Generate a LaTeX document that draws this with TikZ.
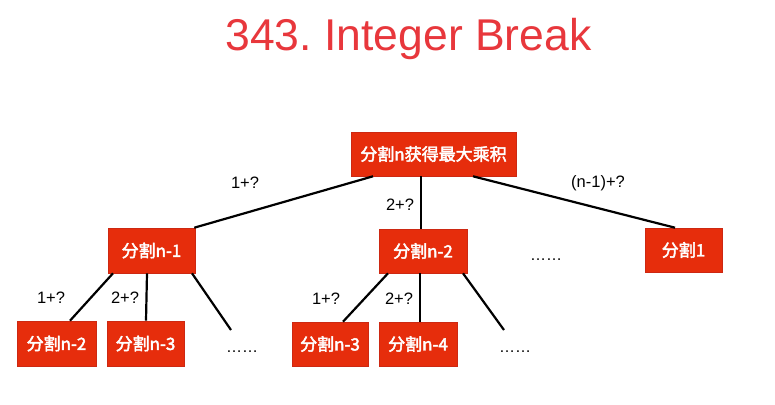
\documentclass[tikz,border=0pt]{standalone}
\usepackage{fontspec}
\setmainfont{Liberation Sans}
\newfontfamily\cjkb{Noto Sans CJK SC}[FakeBold=2.6]
\usetikzlibrary{calc}
\frenchspacing
\definecolor{boxred}{RGB}{230,45,12}
\definecolor{boxedge}{RGB}{205,40,18}
\definecolor{titlered}{RGB}{232,55,60}
\tikzset{
  redbox/.style={rectangle, fill=boxred, draw=boxedge, line width=0.6pt, inner sep=0pt,
    text=white, font=\cjkb\fontsize{17}{20}\selectfont},
  edge/.style={line width=2.2pt, black},
  lbl/.style={font=\fontsize{16.5}{18}\selectfont, text=black, inner sep=0pt},
  dots/.style={font=\fontsize{16}{18}\selectfont, text=black, inner sep=0pt, anchor=base},
}
\begin{document}
\begin{tikzpicture}[x=1pt,y=-1pt]
\useasboundingbox[fill=white] (0,0) rectangle (775,404);
% title
\node[anchor=base, text=titlered, font=\fontsize{44.5}{48}\selectfont, inner sep=0pt] (title) at (408.5,51) {343. Integer Break};
% boxes
\node[redbox, minimum width=165pt, minimum height=44pt] (root) at (433.5,154) {分割n获得最大乘积};
\node[redbox, minimum width=87pt, minimum height=45pt] (n1) at (151.5,250.5) {分割n-1};
\node[redbox, minimum width=88pt, minimum height=44pt] (n2) at (423,251) {分割n-2};
\node[redbox, minimum width=77pt, minimum height=44pt] (s1) at (683.5,250) {分割1};
\node[redbox, minimum width=79pt, minimum height=45pt] (b1) at (56.5,343.5) {分割n-2};
\node[redbox, minimum width=77pt, minimum height=45pt] (b2) at (145.5,343.5) {分割n-3};
\node[redbox, minimum width=76pt, minimum height=44pt] (b3) at (330,344) {分割n-3};
\node[redbox, minimum width=78pt, minimum height=44pt] (b4) at (418,344) {分割n-4};
% dots
\node[dots] (d1) at (546,260) {……};
\node[dots] (d2) at (242,352) {……};
\node[dots] (d3) at (515,352) {……};
% free ends
\coordinate (e1) at (231,330);
\coordinate (e2) at (504,330);
% connectors
\draw[edge] ($(root.south)+(-60.5,0)$) -- ($(n1.north east)+(-1,0)$);
\draw[edge] ($(root.south)+(-12.5,0)$) -- ($(n2.north)+(-2,0)$);
\draw[edge] ($(root.south)+(39.5,0)$) -- ($(s1.north)+(-8.5,0)$);
\draw[edge] ($(n1.south)+(-38.5,0)$) -- ($(b1.north)+(13.5,0)$);
\draw[edge] ($(n1.south)+(-4.5,0)$) -- ($(b2.north)+(0.5,0)$);
\draw[edge] ($(n1.south)+(40.5,0)$) -- (e1);
\draw[edge] ($(n2.south)+(-35,0)$) -- ($(b3.north)+(13,0)$);
\draw[edge] ($(n2.south)+(-3,0)$) -- ($(b4.north)+(2,0)$);
\draw[edge] ($(n2.south)+(40,0)$) -- (e2);
% labels
\node[lbl] (l1) at (245,183) {1+?};
\node[lbl] (l2) at (400,205) {2+?};
\node[lbl] (l3) at (598,183) {(n-1)+?};
\node[lbl] (l4) at (51,298) {1+?};
\node[lbl] (l5) at (125,298) {2+?};
\node[lbl] (l6) at (326,299) {1+?};
\node[lbl] (l7) at (399,299) {2+?};
\end{tikzpicture}
\end{document}
